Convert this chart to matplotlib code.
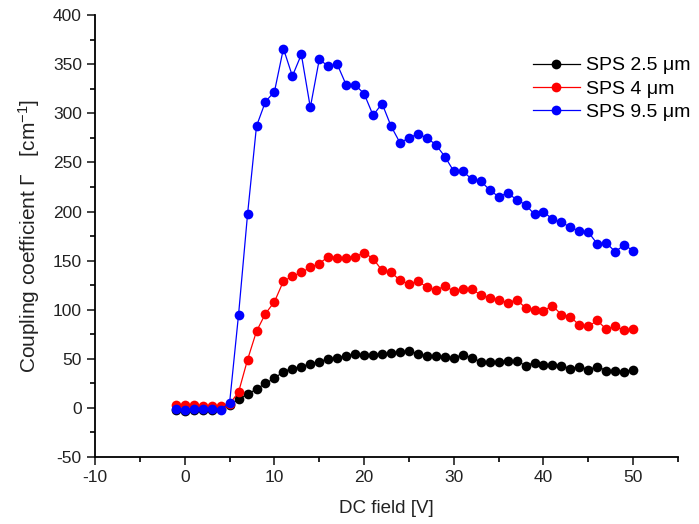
import matplotlib
matplotlib.use("Agg")
import matplotlib.pyplot as plt
from matplotlib.ticker import MultipleLocator

plt.rcParams['font.family'] = ['Liberation Sans', 'DejaVu Sans']
plt.rcParams['mathtext.fontset'] = 'custom'
plt.rcParams['mathtext.rm'] = 'Liberation Sans'
plt.rcParams['mathtext.it'] = 'Liberation Sans:italic'
plt.rcParams['axes.unicode_minus'] = False

dc_field = list(range(-1, 51))

sps_2_5 = [-2, -3, -2, -2, -2, -1, 3, 9, 14, 19, 25, 30, 37, 40, 42, 45, 47, 50,
           51, 53, 55, 54, 54, 55, 56, 57, 58, 55, 53, 53, 52, 51, 54, 51, 47, 47,
           47, 48, 48, 43, 46, 44, 44, 43, 40, 42, 39, 42, 38, 38, 37, 39]
sps_4 = [3, 3, 3, 2, 2, 2, 4, 16, 49, 78, 96, 108, 129, 134, 138, 143, 147, 154,
         153, 153, 154, 158, 152, 140, 138, 130, 126, 129, 123, 120, 124, 119, 121,
         121, 115, 112, 110, 107, 110, 102, 100, 99, 104, 95, 93, 84, 83, 89, 80,
         83, 79, 80]
sps_9_5 = [-1, -2, -1, -1, -1, -2, 5, 95, 197, 287, 312, 322, 366, 338, 360, 306,
           355, 348, 350, 329, 329, 320, 298, 310, 287, 270, 275, 279, 275, 268,
           256, 241, 241, 233, 231, 222, 215, 219, 212, 207, 197, 200, 192, 189,
           184, 180, 179, 167, 168, 159, 166, 160]

labels = ['SPS 2.5 \u03bcm', 'SPS 4 \u03bcm', 'SPS 9.5 \u03bcm']
colors = ['#000000', '#ff0000', '#0000ff']

fig = plt.figure(figsize=(6.99, 5.24), dpi=100)
ax = fig.add_axes([0.136, 0.128, 0.834, 0.843])

for ys, lab, c in zip([sps_2_5, sps_4, sps_9_5], labels, colors):
    ax.plot(dc_field, ys, '-o', color=c, lw=0.9, markersize=7,
            markeredgewidth=0, label=lab)

ax.set_xlim(-10, 55)
ax.set_ylim(-50, 400)
ax.xaxis.set_major_locator(MultipleLocator(10))
ax.xaxis.set_minor_locator(MultipleLocator(5))
ax.yaxis.set_major_locator(MultipleLocator(50))
ax.yaxis.set_minor_locator(MultipleLocator(25))
ax.set_xticks(range(-10, 51, 10))

for s in ['top', 'right']:
    ax.spines[s].set_visible(False)
for s in ['left', 'bottom']:
    ax.spines[s].set_linewidth(1.3)

ax.tick_params(which='major', direction='out', length=6, width=1.2,
               labelsize=12.5, colors='#222222')
ax.tick_params(which='minor', direction='out', length=3.5, width=1.2)

ax.set_xlabel('DC field [V]', fontsize=13.5, labelpad=11, color='#222222')
ax.set_ylabel('Coupling coefficient \u0393   [cm$^{\\mathregular{-1}}$]',
              fontsize=15, labelpad=8, color='#222222')

ax.legend(loc='center left', bbox_to_anchor=(0.751, 0.833), frameon=False,
          fontsize=14, handlelength=2.4, labelspacing=0.3, handletextpad=0.35,
          borderaxespad=0, borderpad=0)

fig.savefig('out.png', dpi=100)
